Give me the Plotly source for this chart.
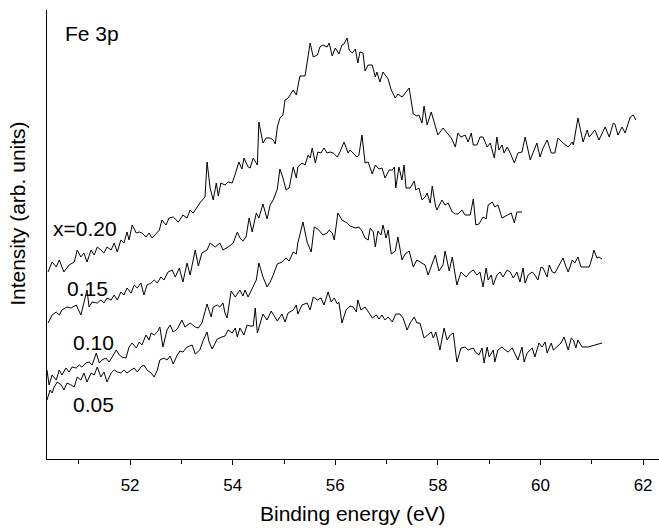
import plotly.graph_objects as go

# Binding energy (eV) and intensity (arb. units)
e_020 = [50.40, 50.48, 50.56, 50.62, 50.71, 50.81, 50.91, 50.97, 51.04, 51.10,
         51.16, 51.24, 51.30, 51.36, 51.43, 51.49, 51.55, 51.63, 51.69, 51.75,
         51.82, 51.88, 51.94, 51.98, 52.04, 52.12, 52.18, 52.23, 52.31, 52.37,
         52.43, 52.51, 52.57, 52.62, 52.70, 52.76, 52.84, 52.94, 53.03, 53.11,
         53.17, 53.23, 53.31, 53.36, 53.46, 53.50, 53.56, 53.62, 53.68, 53.72,
         53.77, 53.85, 53.91, 53.99, 54.05, 54.12, 54.18, 54.22, 54.30, 54.34,
         54.40, 54.48, 54.51, 54.59, 54.65, 54.73, 54.79, 54.83, 54.87, 54.92,
         54.98, 55.02, 55.08, 55.18, 55.24, 55.31, 55.41, 55.51, 55.57, 55.65,
         55.70, 55.76, 55.84, 55.88, 55.94, 56.00, 56.07, 56.13, 56.17, 56.23,
         56.27, 56.33, 56.39, 56.44, 56.48, 56.54, 56.58, 56.64, 56.72, 56.78,
         56.81, 56.87, 56.93, 56.97, 57.03, 57.09, 57.17, 57.22, 57.30, 57.38,
         57.44, 57.52, 57.59, 57.63, 57.69, 57.73, 57.79, 57.87, 57.95, 58.00,
         58.10, 58.18, 58.26, 58.34, 58.39, 58.45, 58.53, 58.59, 58.65, 58.69,
         58.76, 58.82, 58.88, 58.96, 59.02, 59.10, 59.15, 59.19, 59.25, 59.29,
         59.35, 59.41, 59.49, 59.56, 59.64, 59.70, 59.76, 59.80, 59.86, 59.93,
         59.99, 60.05, 60.13, 60.21, 60.28, 60.34, 60.44, 60.54, 60.62, 60.64,
         60.73, 60.83, 60.91, 60.95, 61.06, 61.14, 61.26, 61.34, 61.42, 61.45,
         61.51, 61.59, 61.65, 61.75, 61.81, 61.86]
i_020 = [187, 197, 192, 199, 187, 194, 197, 209, 202, 206,
         197, 209, 204, 212, 209, 206, 212, 209, 216, 207,
         219, 216, 227, 219, 234, 226, 227, 226, 222, 226,
         221, 226, 229, 239, 234, 241, 242, 237, 244, 241,
         249, 246, 252, 256, 262, 297, 271, 259, 276, 263,
         276, 274, 277, 276, 285, 297, 290, 301, 292, 291,
         301, 294, 337, 316, 321, 321, 319, 315, 332, 341,
         344, 359, 361, 369, 364, 383, 383, 416, 402, 404,
         412, 414, 412, 416, 403, 411, 405, 414, 415, 421,
         409, 406, 410, 396, 407, 406, 388, 394, 394, 382,
         387, 377, 387, 384, 380, 369, 361, 365, 362, 367,
         371, 345, 343, 344, 336, 353, 334, 347, 332, 324,
         331, 326, 321, 312, 326, 322, 324, 317, 326, 314,
         314, 322, 322, 312, 316, 301, 322, 309, 314, 306,
         312, 306, 296, 306, 307, 322, 309, 299, 307, 316,
         302, 311, 319, 306, 306, 321, 316, 312, 317, 314,
         341, 317, 329, 322, 329, 319, 332, 322, 336, 335,
         324, 332, 326, 342, 344, 339]

e_015 = [50.40, 50.48, 50.56, 50.62, 50.67, 50.77, 50.85, 50.95, 51.04, 51.10,
         51.16, 51.20, 51.26, 51.36, 51.43, 51.49, 51.55, 51.63, 51.69, 51.75,
         51.82, 51.88, 51.94, 52.02, 52.08, 52.14, 52.21, 52.27, 52.33, 52.41,
         52.47, 52.53, 52.60, 52.66, 52.74, 52.82, 52.88, 52.96, 53.03, 53.11,
         53.17, 53.27, 53.33, 53.40, 53.50, 53.56, 53.66, 53.75, 53.81, 53.91,
         54.01, 54.09, 54.14, 54.20, 54.26, 54.32, 54.38, 54.46, 54.51, 54.59,
         54.67, 54.73, 54.79, 54.87, 54.92, 54.98, 55.04, 55.10, 55.18, 55.24,
         55.27, 55.35, 55.41, 55.47, 55.51, 55.55, 55.61, 55.66, 55.72, 55.78,
         55.84, 55.90, 55.96, 56.04, 56.09, 56.17, 56.25, 56.29, 56.35, 56.42,
         56.46, 56.52, 56.58, 56.64, 56.72, 56.78, 56.85, 56.91, 56.97, 57.05,
         57.11, 57.15, 57.18, 57.24, 57.30, 57.34, 57.38, 57.46, 57.54, 57.57,
         57.63, 57.69, 57.75, 57.79, 57.85, 57.89, 57.95, 57.98, 58.08, 58.14,
         58.20, 58.28, 58.34, 58.39, 58.47, 58.53, 58.63, 58.69, 58.74, 58.80,
         58.88, 58.94, 58.98, 59.06, 59.11, 59.17, 59.25, 59.33, 59.43, 59.49,
         59.54, 59.64]
i_015 = [136, 144, 147, 144, 149, 152, 151, 154, 144, 157,
         169, 152, 157, 156, 159, 156, 161, 159, 164, 159,
         167, 164, 171, 166, 174, 171, 176, 164, 174, 176,
         179, 176, 182, 179, 187, 189, 182, 191, 177, 196,
         184, 209, 193, 206, 209, 216, 212, 216, 209, 212,
         216, 227, 221, 218, 222, 241, 227, 246, 241, 255,
         240, 254, 259, 270, 290, 281, 269, 271, 292, 281,
         292, 296, 294, 304, 301, 311, 296, 307, 306, 311,
         306, 307, 306, 302, 307, 317, 306, 309, 306, 302,
         304, 324, 296, 297, 285, 294, 290, 291, 281, 289,
         289, 292, 271, 292, 279, 294, 271, 271, 278, 269,
         271, 259, 262, 266, 256, 273, 254, 249, 259, 254,
         256, 247, 245, 245, 249, 244, 244, 260, 234, 235,
         242, 240, 254, 257, 252, 254, 241, 243, 246, 236,
         247, 247]

e_010 = [50.38, 50.42, 50.48, 50.56, 50.62, 50.67, 50.75, 50.81, 50.87, 50.95,
         51.01, 51.06, 51.14, 51.20, 51.26, 51.34, 51.40, 51.45, 51.53, 51.59,
         51.65, 51.73, 51.79, 51.84, 51.92, 51.98, 52.04, 52.12, 52.18, 52.23,
         52.31, 52.37, 52.41, 52.47, 52.53, 52.58, 52.64, 52.72, 52.78, 52.84,
         52.92, 53.01, 53.07, 53.17, 53.27, 53.33, 53.40, 53.46, 53.50, 53.58,
         53.62, 53.70, 53.75, 53.81, 53.85, 53.89, 53.97, 54.05, 54.14, 54.20,
         54.24, 54.30, 54.40, 54.46, 54.51, 54.59, 54.67, 54.73, 54.79, 54.87,
         54.96, 55.04, 55.10, 55.18, 55.24, 55.27, 55.37, 55.45, 55.53, 55.59,
         55.66, 55.72, 55.76, 55.84, 55.88, 55.94, 55.98, 56.05, 56.13, 56.23,
         56.29, 56.39, 56.46, 56.52, 56.58, 56.64, 56.68, 56.74, 56.78, 56.83,
         56.89, 56.93, 56.99, 57.03, 57.09, 57.17, 57.22, 57.30, 57.36, 57.44,
         57.52, 57.59, 57.65, 57.75, 57.81, 57.89, 57.95, 58.02, 58.10, 58.14,
         58.22, 58.28, 58.37, 58.45, 58.55, 58.63, 58.69, 58.76, 58.82, 58.88,
         58.94, 58.98, 59.04, 59.08, 59.15, 59.21, 59.27, 59.35, 59.41, 59.47,
         59.54, 59.60, 59.66, 59.70, 59.76, 59.84, 59.89, 59.95, 60.01, 60.05,
         60.13, 60.17, 60.23, 60.28, 60.34, 60.44, 60.50, 60.54, 60.62, 60.67,
         60.73, 60.79, 60.87, 60.95, 61.01, 61.04, 61.10, 61.14, 61.20]
i_010 = [89, 74, 84, 79, 89, 84, 91, 87, 92, 91,
         94, 92, 96, 97, 94, 106, 96, 99, 101, 97,
         102, 109, 104, 102, 101, 112, 116, 111, 117, 114,
         124, 119, 126, 124, 127, 132, 112, 129, 134, 127,
         130, 139, 132, 136, 132, 131, 136, 149, 155, 142,
         152, 154, 152, 156, 146, 141, 168, 162, 169, 163,
         169, 162, 173, 179, 196, 182, 172, 177, 184, 195,
         197, 201, 198, 207, 205, 216, 237, 217, 207, 232,
         230, 227, 224, 226, 229, 226, 219, 246, 239, 236,
         233, 231, 232, 228, 221, 219, 231, 227, 212, 228,
         224, 234, 221, 229, 205, 208, 222, 199, 205, 208,
         192, 199, 197, 194, 184, 195, 204, 188, 194, 208,
         188, 202, 174, 187, 182, 187, 189, 184, 187, 172,
         191, 179, 184, 174, 184, 187, 182, 189, 187, 181,
         187, 177, 191, 176, 184, 187, 184, 179, 192, 191,
         182, 194, 187, 186, 192, 201, 192, 187, 199, 196,
         202, 192, 192, 192, 202, 209, 201, 202, 200]

e_005 = [50.38, 50.44, 50.48, 50.52, 50.58, 50.66, 50.71, 50.77, 50.85, 50.91,
         50.97, 51.04, 51.10, 51.16, 51.24, 51.30, 51.36, 51.43, 51.49, 51.55,
         51.63, 51.69, 51.75, 51.82, 51.88, 51.94, 52.02, 52.08, 52.14, 52.21,
         52.27, 52.33, 52.41, 52.47, 52.53, 52.58, 52.66, 52.72, 52.78, 52.84,
         52.92, 52.97, 53.03, 53.11, 53.21, 53.27, 53.36, 53.42, 53.50, 53.54,
         53.60, 53.70, 53.79, 53.85, 53.91, 53.99, 54.05, 54.09, 54.14, 54.22,
         54.28, 54.34, 54.40, 54.44, 54.48, 54.53, 54.59, 54.67, 54.75, 54.81,
         54.87, 54.96, 55.02, 55.08, 55.18, 55.24, 55.27, 55.35, 55.45, 55.51,
         55.57, 55.65, 55.72, 55.78, 55.86, 55.92, 55.98, 56.04, 56.07, 56.13,
         56.21, 56.29, 56.35, 56.41, 56.44, 56.50, 56.58, 56.66, 56.72, 56.80,
         56.85, 56.91, 56.97, 57.03, 57.11, 57.18, 57.26, 57.32, 57.40, 57.46,
         57.54, 57.59, 57.65, 57.73, 57.79, 57.87, 57.91, 57.96, 58.04, 58.12,
         58.18, 58.24, 58.30, 58.37, 58.45, 58.53, 58.59, 58.69, 58.73, 58.80,
         58.86, 58.90, 58.96, 59.00, 59.08, 59.11, 59.17, 59.25, 59.31, 59.37,
         59.45, 59.50, 59.56, 59.64, 59.68, 59.74, 59.84, 59.89, 59.97, 60.03,
         60.09, 60.13, 60.21, 60.25, 60.32, 60.40, 60.46, 60.54, 60.60, 60.64,
         60.69, 60.73, 60.81, 60.93, 61.06, 61.20]
i_005 = [59, 69, 66, 72, 77, 74, 69, 76, 74, 72,
         82, 79, 86, 77, 86, 84, 92, 82, 87, 77,
         86, 89, 87, 86, 89, 86, 89, 91, 87, 92,
         94, 89, 86, 82, 89, 99, 101, 99, 103, 95,
         104, 108, 107, 112, 114, 105, 109, 118, 127, 117,
         110, 120, 122, 123, 129, 126, 131, 122, 131, 124,
         134, 133, 133, 151, 126, 135, 145, 139, 148, 143,
         138, 145, 137, 146, 149, 154, 145, 154, 156, 149,
         162, 159, 161, 154, 167, 157, 161, 155, 157, 136,
         149, 153, 152, 147, 159, 149, 152, 146, 141, 144,
         140, 144, 139, 142, 137, 145, 145, 141, 129, 136,
         142, 136, 136, 121, 124, 127, 121, 127, 109, 131,
         119, 124, 126, 97, 111, 112, 109, 111, 107, 104,
         111, 96, 112, 102, 109, 97, 109, 112, 109, 107,
         111, 106, 99, 112, 97, 106, 111, 102, 116, 112,
         117, 106, 116, 109, 112, 116, 122, 109, 121, 119,
         111, 119, 112, 112, 114, 116]

series = [(e_020, i_020), (e_015, i_015), (e_010, i_010), (e_005, i_005)]

# curve labels: text, energy, intensity
label_text = ["Fe 3p", "x=0.20", "0.15", "0.10", "0.05"]
label_e = [50.70, 50.46, 50.74, 50.84, 50.84]
label_i = [426, 231, 171, 117, 55]

x_ticks = [52, 54, 56, 58, 60, 62]

FONT = "Liberation Sans, Arial, Helvetica, sans-serif"

fig = go.Figure()
for ex, iy in series:
    fig.add_trace(go.Scatter(x=ex, y=iy, mode="lines",
                             line=dict(color="black", width=1),
                             hoverinfo="skip", showlegend=False))

for t, ex, iy in zip(label_text, label_e, label_i):
    fig.add_annotation(x=ex, y=iy, xref="x", yref="y", text=t, showarrow=False,
                       xanchor="left", yanchor="middle",
                       font=dict(family=FONT, size=21, color="black"))

fig.add_annotation(x=0.5, y=-54 / 449, xref="paper", yref="paper",
                   text="Binding energy (eV)", showarrow=False,
                   xanchor="center", yanchor="middle",
                   font=dict(family=FONT, size=21, color="black"))
fig.add_annotation(x=-29 / 612, y=0.546, xref="paper", yref="paper",
                   text="Intensity (arb. units)", showarrow=False, textangle=-90,
                   xanchor="center", yanchor="middle",
                   font=dict(family=FONT, size=21, color="black"))

fig.update_layout(
    width=659, height=528,
    margin=dict(l=47, r=0, t=10, b=69),
    paper_bgcolor="white", plot_bgcolor="white",
    font=dict(family=FONT, color="black"),
    showlegend=False,
)
fig.update_xaxes(
    range=[50.38, 62.31], showgrid=False, zeroline=False,
    showline=True, linecolor="black", linewidth=1.3,
    ticks="outside", ticklen=5, tickwidth=1, tickcolor="black",
    tickmode="array", tickvals=x_ticks, ticktext=[str(v) for v in x_ticks],
    tickfont=dict(family=FONT, size=17, color="black"),
    ticklabelstandoff=5,
    minor=dict(ticks="outside", ticklen=4, tickwidth=1, tickcolor="black",
               tickmode="linear", tick0=51, dtick=2, showgrid=False),
)
fig.update_yaxes(
    range=[0, 449], showgrid=False, zeroline=False,
    showline=True, linecolor="black", linewidth=1.3,
    ticks="", showticklabels=False,
)

fig.write_html("out.html")
